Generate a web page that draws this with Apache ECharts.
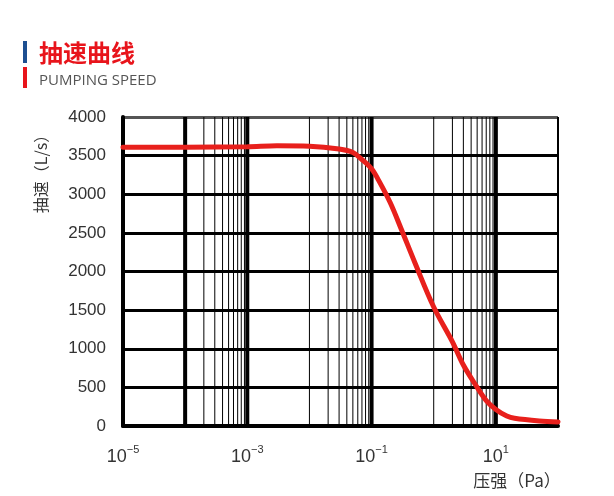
<!DOCTYPE html>
<html><head><meta charset="utf-8">
<script src="https://cdn.jsdelivr.net/npm/echarts@6/dist/echarts.min.js"></script>
<style>html,body{margin:0;padding:0;background:#fff}#c{width:614px;height:496px}</style>
</head><body><div id="c"></div>
<script>
// Data (pressure in Pa, pumping speed in L/s)
const pressure = [1e-5, 1e-4, 1e-3, 3e-3, 1e-2, 3e-2, 5e-2, 0.07, 0.1, 0.13, 0.2, 0.3, 0.5, 1, 2, 3, 5, 7, 10, 15, 20, 50, 100];
const speed    = [3610, 3610, 3615, 3628, 3622, 3585, 3540, 3450, 3330, 3180, 2890, 2550, 2110, 1540, 1090, 790, 500, 330, 215, 130, 100, 65, 52];
const xLabelValues = [1e-5, 1e-3, 1e-1, 10];
const yMin = 0, yMax = 4000, yInterval = 500;
const majorLines = [1e-4, 1e-3, 1e-1, 10];
const minorLines = [2e-4,3e-4,4e-4,5e-4,6e-4,7e-4,8e-4,9e-4,
                    1e-2,2e-2,3e-2,4e-2,5e-2,6e-2,7e-2,8e-2,9e-2,
                    1,2,3,4,5,6,7,8,9];
const borderLines = [100];
const titleText = '抽速曲线';
const subtitleText = 'PUMPING SPEED';
const yName = '抽速（L/s）';
const xName = '压强（Pa）';

const chart = echarts.init(document.getElementById('c'), null, {renderer: 'canvas'});

function verticalSeries(values, width, z) {
  const data = [];
  values.forEach(v => { data.push([v, yMin]); data.push([v, yMax]); data.push([v, '-']); });
  return {
    type: 'line', data: data, z: z, silent: true, symbol: 'none', showSymbol: false,
    connectNulls: false, animation: false,
    lineStyle: {color: '#000', width: width, cap: 'butt'}
  };
}

const splitColors = [];
for (let v = yMin; v <= yMax; v += yInterval) splitColors.push(v === yMax ? '#555' : '#000');

chart.setOption({
  backgroundColor: '#fff',
  animation: false,
  grid: {left: 123, top: 117, width: 435, height: 309, containLabel: false},
  xAxis: {
    type: 'log', logBase: 10, min: 1e-5, max: 100,
    axisLine: {show: true, onZero: false, lineStyle: {color: '#000', width: 4}},
    axisTick: {show: false},
    splitLine: {show: false},
    minorSplitLine: {show: false},
    axisLabel: {
      customValues: xLabelValues,
      margin: 18,
      formatter: function (v) {
        const e = Math.round(Math.log10(v));
        const s = String(e).replace('-', '−');
        return '{b|10}{s|' + s + '}';
      },
      rich: {
        b: {fontFamily: 'Liberation Sans', fontSize: 18, color: '#333', lineHeight: 22, verticalAlign: 'bottom'},
        s: {fontFamily: 'Liberation Sans', fontSize: 11, color: '#333', lineHeight: 22, verticalAlign: 'top', padding: [0,0,8,0]}
      }
    }
  },
  yAxis: {
    type: 'value', min: yMin, max: yMax, interval: yInterval,
    axisLine: {show: true, onZero: false, lineStyle: {color: '#000', width: 4}},
    axisTick: {show: false},
    splitLine: {show: true, lineStyle: {color: splitColors, width: 3}},
    axisLabel: {fontFamily: 'Liberation Sans', fontSize: 17, color: '#333', margin: 17,
      formatter: function (v) { return String(v); }}
  },
  series: [
    verticalSeries(minorLines, 1, 1),
    verticalSeries(borderLines, 2, 1),
    verticalSeries(majorLines, 4, 2),
    {
      type: 'line', z: 5,
      data: pressure.map((p, i) => [p, speed[i]]),
      smooth: 0.35, showSymbol: false, symbol: 'none',
      lineStyle: {color: '#e8201c', width: 5, cap: 'round'}
    }
  ],
  graphic: [
    {type: 'rect', shape: {x: 23, y: 41, width: 4, height: 22}, style: {fill: '#1d4f91'}},
    {type: 'rect', shape: {x: 23, y: 67, width: 4, height: 21}, style: {fill: '#e8141b'}},
    {type: 'text', x: 39, y: 53, style: {text: titleText, fill: '#e8141b', font: 'bold 24px "Noto Sans CJK SC"', textVerticalAlign: 'middle'}},
    {type: 'text', x: 39, y: 81, style: {text: subtitleText, fill: '#555', font: '15px "Open Sans", "Noto Sans", sans-serif', textVerticalAlign: 'middle'}},
    {type: 'text', x: 41, y: 170, rotation: Math.PI / 2, style: {text: yName, fill: '#333', font: '16px "Noto Sans CJK SC"', textAlign: 'center', textVerticalAlign: 'middle'}},
    {type: 'text', x: 517, y: 481, style: {text: xName, fill: '#333', font: '17px "Noto Sans CJK SC"', textAlign: 'center', textVerticalAlign: 'middle'}}
  ]
});
</script>
</body></html>
